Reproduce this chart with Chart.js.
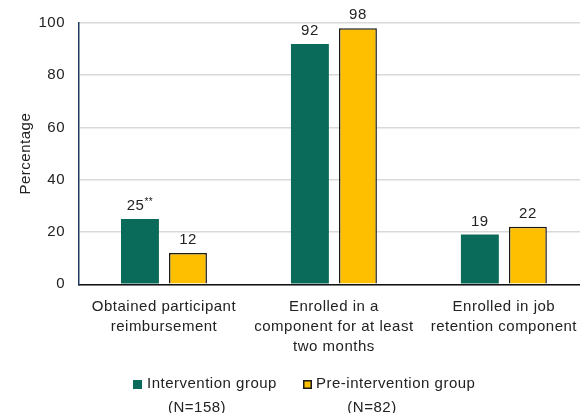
<!DOCTYPE html>
<html><head><meta charset="utf-8">
<script src="https://cdn.jsdelivr.net/npm/chart.js@4/dist/chart.umd.min.js"></script>
<style>html,body{margin:0;padding:0;background:#fff;overflow:hidden;}#wrap{width:580px;height:413px;overflow:hidden;position:relative;}canvas{position:absolute;left:0;top:0;}</style>
</head><body><div id="wrap"><canvas id="c" width="589" height="413"></canvas></div>
<script>
const categories = [["Obtained participant","reimbursement"],["Enrolled in a","component for at least","two months"],["Enrolled in job","retention component"]];
const interventionValues = [25, 92, 19];
const preInterventionValues = [12, 98, 22];
const interventionLabels = ["25**", "92", "19"];
const preInterventionLabels = ["12", "98", "22"];
const yTicks = [0, 20, 40, 60, 80, 100];
const legendItems = [
  {lines: ["Intervention group", "(N=158)"], color: "#0a6b5a", border: null},
  {lines: ["Pre-intervention group", "(N=82)"], color: "#fdbf00", border: "#1a1a1a"}
];
const FONT = "'Liberation Sans', Arial, sans-serif";
const SP = '0.5px';

const canvas = document.getElementById('c');
canvas.getContext('2d').letterSpacing = SP;

const spacingPlugin = {
  id: 'spacing',
  beforeInit(chart) { chart.ctx.letterSpacing = SP; },
  beforeLayout(chart) { chart.ctx.letterSpacing = SP; },
  beforeDraw(chart) { chart.ctx.letterSpacing = SP; }
};

const dataLabelPlugin = {
  id: 'dataLabels',
  afterDatasetsDraw(chart) {
    const ctx = chart.ctx;
    ctx.save();
    ctx.letterSpacing = SP;
    ctx.fillStyle = '#222';
    ctx.textBaseline = 'alphabetic';
    const labelSets = [interventionLabels, preInterventionLabels];
    chart.data.datasets.forEach((ds, di) => {
      const meta = chart.getDatasetMeta(di);
      meta.data.forEach((bar, i) => {
        const txt = labelSets[di][i];
        const m = txt.match(/^(\d+)(\**)$/);
        const main = m[1], sup = m[2];
        ctx.font = "15px " + FONT;
        const w1 = ctx.measureText(main).width;
        ctx.font = "10px " + FONT;
        const w2 = sup ? ctx.measureText(sup).width : 0;
        const x0 = bar.x - (w1 + w2) / 2;
        const y = bar.y - 9;
        ctx.textAlign = 'left';
        ctx.font = "15px " + FONT;
        ctx.fillText(main, x0, y);
        if (sup) { ctx.font = "10px " + FONT; ctx.fillText(sup, x0 + w1, y - 5); }
      });
    });
    ctx.restore();
  }
};

const legendPlugin = {
  id: 'customLegend',
  afterDraw(chart) {
    const ctx = chart.ctx;
    ctx.save();
    ctx.letterSpacing = SP;
    ctx.font = "15px " + FONT;
    ctx.textBaseline = 'middle';
    const squares = [133, 303];
    const textX = [147, 316];
    const subX = [197, 372];
    legendItems.forEach((it, k) => {
      const x = squares[k];
      const y = 384;
      ctx.fillStyle = it.color;
      ctx.fillRect(x, y - 4, 9, 9);
      if (it.border) { ctx.strokeStyle = it.border; ctx.lineWidth = 1.5; ctx.strokeRect(x + 0.75, y - 3.25, 7.5, 7.5); }
      ctx.fillStyle = '#222';
      ctx.textAlign = 'left';
      ctx.fillText(it.lines[0], textX[k], y);
      ctx.textAlign = 'center';
      ctx.fillText(it.lines[1], subX[k], y + 24);
    });
    ctx.restore();
  }
};

new Chart(canvas, {
  type: 'bar',
  data: {
    labels: categories,
    datasets: [
      {label: 'Intervention group (N=158)', data: interventionValues, backgroundColor: '#0a6b5a', borderWidth: 0, categoryPercentage: 0.565, barPercentage: 0.79},
      {label: 'Pre-intervention group (N=82)', data: preInterventionValues, backgroundColor: '#fdbf00', borderColor: '#1a1a1a', borderWidth: 1.5, categoryPercentage: 0.565, barPercentage: 0.79}
    ]
  },
  options: {
    responsive: false,
    animation: false,
    layout: {padding: {top: 23, right: 0, left: 15, bottom: 44}},
    plugins: {legend: {display: false}, tooltip: {enabled: false}},
    scales: {
      x: {
        grid: {display: false, drawTicks: false},
        border: {color: '#111', width: 1.5},
        ticks: {color: '#222', font: {family: FONT, size: 15, lineHeight: 1.35}, maxRotation: 0, autoSkip: false, padding: 12}
      },
      y: {
        min: 0, max: 100,
        afterBuildTicks(axis) { axis.ticks = yTicks.map(v => ({value: v})); },
        afterFit(axis) { axis.width = 64; },
        grid: {color: '#d9d9d9', lineWidth: 1.5, drawTicks: false},
        border: {color: '#1f3a5f', width: 1.5},
        ticks: {color: '#222', font: {family: FONT, size: 15}, padding: 14},
        title: {display: true, text: 'Percentage', color: '#222', font: {family: FONT, size: 15}, padding: {top: 2, bottom: 7}}
      }
    }
  },
  plugins: [spacingPlugin, dataLabelPlugin, legendPlugin]
});
</script></body></html>
